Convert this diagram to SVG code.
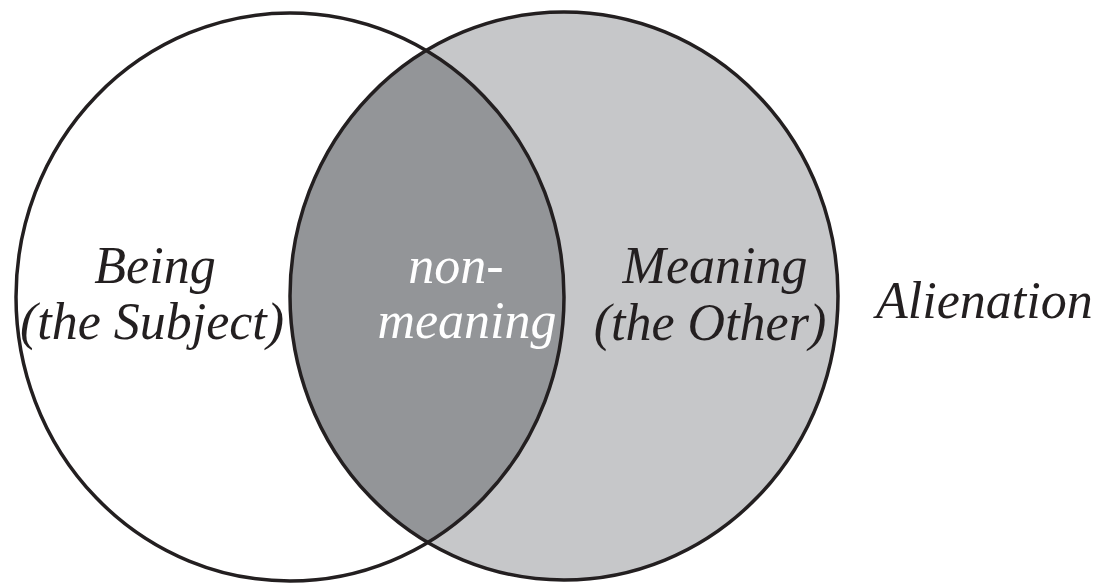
<svg xmlns="http://www.w3.org/2000/svg" width="1113" height="586" viewBox="0 0 1113 586">
  <style>
    .ring { fill: none; stroke: #231f20; stroke-width: 3.5; }
    .lbl { font-family: 'Liberation Serif', 'DejaVu Serif', serif; font-style: italic; font-size: 52px; fill: #231f20; text-anchor: middle; }
    .inv { fill: #ffffff; }
  </style>
  <defs>
    <clipPath id="clipLeft">
      <ellipse cx="290" cy="297" rx="274" ry="284"/>
    </clipPath>
  </defs>
  <rect width="1113" height="586" fill="#ffffff"/>
  <g id="meaning-set">
    <ellipse cx="564" cy="296" rx="274" ry="284" fill="#c6c7c9"/>
  </g>
  <g id="non-meaning-set">
    <ellipse cx="564" cy="296" rx="274" ry="284" fill="#939598" clip-path="url(#clipLeft)"/>
  </g>
  <g id="outlines">
    <ellipse id="being-circle" class="ring" cx="290" cy="297" rx="274" ry="284"/>
    <ellipse id="meaning-circle" class="ring" cx="564" cy="296" rx="274" ry="284"/>
  </g>
  <g id="being">
    <text class="lbl" font-family="Liberation Serif" x="155" y="283">Being</text>
    <text class="lbl" font-family="Liberation Serif" x="152" y="339">(the Subject)</text>
  </g>
  <g id="non-meaning">
    <text class="lbl inv" font-family="Liberation Serif" x="456" y="283">non-</text>
    <text class="lbl inv" font-family="Liberation Serif" x="467" y="338">meaning</text>
  </g>
  <g id="meaning">
    <text class="lbl" font-family="Liberation Serif" x="715" y="283">Meaning</text>
    <text class="lbl" font-family="Liberation Serif" x="710" y="340">(the Other)</text>
  </g>
  <g id="alienation">
    <text class="lbl" font-family="Liberation Serif" x="876" y="318" style="text-anchor:start">Alienation</text>
  </g>
</svg>
